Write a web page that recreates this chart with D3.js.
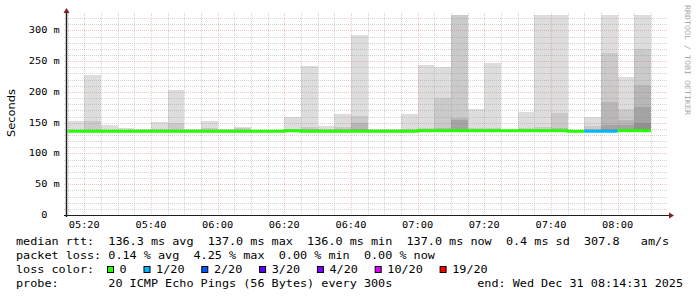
<!DOCTYPE html>
<html>
<head>
<meta charset="utf-8">
<script src="https://cdn.jsdelivr.net/npm/d3@7"></script>
<style>
  body { margin: 0; background: #fff; }
  svg { display: block; }
  text { font-family: "DejaVu Sans Mono", monospace; white-space: pre; }
</style>
</head>
<body>
<svg id="chart" width="697" height="297"></svg>
<script>
// time window of the graph
const day = "2025-12-31 ";
const startTime = "05:14:31";
const endTime = "08:14:31";
const yMax = 325; // ms

// 5 minute bins (start of each bin)
const binStart = ["05:15", "05:20", "05:25", "05:30", "05:35", "05:40", "05:45", "05:50", "05:55",
    "06:00", "06:05", "06:10", "06:15", "06:20", "06:25", "06:30", "06:35", "06:40", "06:45", "06:50", "06:55",
    "07:00", "07:05", "07:10", "07:15", "07:20", "07:25", "07:30", "07:35", "07:40", "07:45", "07:50", "07:55",
    "08:00", "08:05"];

// smoke bands, outer to inner (ms)
const smokeMax = [153, 227, 146, 142, 139, 151, 203, 140, 153, 139, 143.5, 138.5, 138.5, 160, 242, 145, 164, 292, 139, 139, 164,
    243.5, 241, 340, 172, 247.5, 138.5, 168, 340, 340, 138, 160, 340, 224, 340];
const smoke2 = [138, 153, 138, 138, 138, 139, 150, 138, 142, 138, 142, 138, 138, 139, 143, 139, 142.5, 161, 138, 138, 140,
    141, 190, 340, 141, 142, 138, 142, 143.5, 165, 137, 144.7, 263, 172, 269];
const smoke3 = [137, 138, 137, 137, 137, 137, 138, 137, 138, 137, 138, 137, 137, 138, 139, 137, 139, 150, 137, 137, 138,
    139, 141, 157, 139, 139, 137, 139, 139, 141, 137, 139, 184, 154, 211];
const smoke4 = [137, 137, 137, 137, 137, 137, 137, 137, 137, 137, 137, 137, 137, 137, 137, 137, 137, 140, 137, 137, 137,
    137, 139, 154, 137, 137, 137, 137, 137, 137, 137, 137, 146, 146, 176];
const smoke5 = [136.5, 136.5, 136.5, 136.5, 136.5, 136.5, 136.5, 136.5, 136.5, 136.5, 136.5, 136.5, 136.5, 136.5, 136.5, 136.5, 136.5, 136.5, 136.5, 136.5, 136.5,
    136.5, 136.5, 136.5, 136.5, 136.5, 136.5, 136.5, 136.5, 136.5, 136.5, 136.5, 140, 140, 149];
const smokeMin = [135.5, 135.5, 135.5, 135.5, 135.5, 135.5, 135.5, 135.5, 135.5, 135.5, 135.5, 135.5, 135.5, 135.5, 135.5, 135.5, 135.5, 135.5, 135.5, 135.5, 135.5,
    135.5, 135.5, 135.5, 135.5, 135.5, 135.5, 135.5, 135.5, 135.5, 135.5, 135.5, 135.5, 135.5, 135.5];

// median rtt (ms) and lost pings per bin
const median = [136, 136, 136, 136, 136, 136, 136, 136, 136, 136, 136, 136, 136, 137, 136, 136, 136, 136, 136, 136, 136,
    137, 137, 137, 137, 137, 137, 137, 137, 137, 136, 136, 136, 137, 137];
const lost = [0, 0, 0, 0, 0, 0, 0, 0, 0, 0, 0, 0, 0, 0, 0, 0, 0, 0, 0, 0, 0,
    0, 0, 0, 0, 0, 0, 0, 0, 0, 0, 1, 1, 0, 0];

// legend
const lossLevels = ["0", "1/20", "2/20", "3/20", "4/20", "10/20", "19/20"];
const lossThresholds = [1, 2, 3, 4, 10, 19];
const lossColors = ["#26ff00", "#00b8ff", "#0059ff", "#5e00ff", "#7e00ff", "#dd00ff", "#ff0000"];
const rttStats = [["136.3 ms", "avg"], ["137.0 ms", "max"], ["136.0 ms", "min"], ["137.0 ms", "now"], ["0.4 ms", "sd"]];
const lossStats = [["0.14 %", "avg"], ["4.25 %", "max"], ["0.00 %", "min"], ["0.00 %", "now"]];
const amps = "307.8";
const probeText = "20 ICMP Echo Pings (56 Bytes) every 300s";
const endText = "end: Wed Dec 31 08:14:31 2025";

const svg = d3.select("#chart");
const plotLeft = 66, plotRight = 666, plotTop = 15, plotBottom = 215;

const parseTime = d3.timeParse("%Y-%m-%d %H:%M:%S");
const x = d3.scaleTime()
    .domain([parseTime(day + startTime), parseTime(day + endTime)])
    .range([plotLeft, plotRight]);
const y = d3.scaleLinear().domain([0, yMax]).range([plotBottom, plotTop]);
const lossScale = d3.scaleThreshold().domain(lossThresholds).range(lossColors);

const bins = binStart.map((s, i) => {
    const t0 = parseTime(day + s + ":00");
    return { i, t0, t1: d3.timeMinute.offset(t0, 5) };
});

// monospace text stretched to a fixed cell width, like the rrdtool output
function mono(g, str, x0, yb, cw, size, fill) {
    const trimmed = str.replace(/\s+$/, "");
    return g.append("text")
        .attr("x", x0)
        .attr("y", yb)
        .attr("font-size", size + "px")
        .attr("fill", fill || "#000")
        .attr("textLength", trimmed.length * cw)
        .attr("lengthAdjust", "spacingAndGlyphs")
        .text(trimmed);
}

svg.append("clipPath").attr("id", "plot")
    .append("rect")
    .attr("x", plotLeft).attr("y", plotTop)
    .attr("width", plotRight - plotLeft).attr("height", plotBottom - plotTop);

// smoke
const smokeLayers = [smokeMax, smoke2, smoke3, smoke4, smoke5];
const smokeColors = ["#dddddd", "#cacaca", "#b7b7b7", "#a4a4a4", "#919191"];
const smokeG = svg.append("g").attr("clip-path", "url(#plot)");
smokeLayers.forEach((tops, k) => {
    smokeG.append("g").selectAll("rect")
        .data(bins)
        .join("rect")
        .attr("x", d => x(d.t0))
        .attr("width", d => x(d.t1) - x(d.t0))
        .attr("y", d => y(tops[d.i]))
        .attr("height", d => Math.max(0, y(smokeMin[d.i]) - y(tops[d.i])))
        .attr("fill", smokeColors[k])
        .attr("shape-rendering", "crispEdges");
});

// grid (drawn over the smoke like rrdtool does)
const minorColor = "rgba(143,143,143,0.38)";
const majorColor = "rgba(222,79,79,0.33)";
const gridG = svg.append("g").attr("stroke-dasharray", "1,1").attr("shape-rendering", "crispEdges");
gridG.selectAll(".hgrid")
    .data(d3.range(10, yMax, 10))
    .join("line")
    .attr("class", "hgrid")
    .attr("x1", plotLeft - 2).attr("x2", plotRight + 2)
    .attr("y1", d => Math.round(y(d)) + 0.5)
    .attr("y2", d => Math.round(y(d)) + 0.5)
    .attr("stroke", d => d % 50 === 0 ? majorColor : minorColor);

const minorTimes = x.ticks(d3.timeMinute.every(5));
gridG.selectAll(".vgrid")
    .data(minorTimes)
    .join("line")
    .attr("class", "vgrid")
    .attr("x1", d => Math.round(x(d)) + 0.5)
    .attr("x2", d => Math.round(x(d)) + 0.5)
    .attr("y1", 13).attr("y2", plotBottom + 2)
    .attr("stroke", d => d.getMinutes() % 20 === 0 ? majorColor : minorColor);

// median line coloured by loss
const groups = [];
bins.forEach(b => {
    const c = lossScale(lost[b.i]);
    const last = groups[groups.length - 1];
    if (last && last.color === c && last.bins[last.bins.length - 1].i === b.i - 1) last.bins.push(b);
    else groups.push({ color: c, bins: [b] });
});
const stepLine = d3.line().curve(d3.curveStepAfter).x(d => d[0]).y(d => d[1]);
svg.append("g").attr("clip-path", "url(#plot)")
    .selectAll("path")
    .data(groups)
    .join("path")
    .attr("fill", "none")
    .attr("stroke", d => d.color)
    .attr("stroke-width", 3)
    .attr("d", g => {
        const pts = g.bins.map(b => [x(b.t0), y(median[b.i])]);
        const lastBin = g.bins[g.bins.length - 1];
        pts.push([x(lastBin.t1), y(median[lastBin.i])]);
        return stepLine(pts);
    });

// axes
const axisG = svg.append("g");
axisG.append("line")
    .attr("x1", plotLeft + 0.5).attr("x2", plotLeft + 0.5)
    .attr("y1", plotBottom + 2).attr("y2", 12)
    .attr("stroke", "#1f1f1f").attr("stroke-width", 1.5);
axisG.append("line")
    .attr("x1", plotLeft - 2).attr("x2", plotRight + 3)
    .attr("y1", plotBottom + 0.5).attr("y2", plotBottom + 0.5)
    .attr("stroke", "#1f1f1f").attr("stroke-width", 1.2);
axisG.append("path")
    .attr("d", `M${plotLeft + 0.5},8 L${plotLeft - 2.5},13 L${plotLeft + 3.5},13 Z`)
    .attr("fill", "#801f1f");
axisG.append("path")
    .attr("d", `M${plotRight + 8},${plotBottom + 0.5} L${plotRight + 3},${plotBottom - 2.5} L${plotRight + 3},${plotBottom + 3.5} Z`)
    .attr("fill", "#801f1f");

// tick labels
const cwAxis = 6.2, axisSize = 8.6;
d3.range(0, yMax, 50).forEach(v => {
    const label = v === 0 ? "0  " : v + " m";
    mono(axisG, label, 59.8 - label.length * cwAxis, y(v) + 3, cwAxis, axisSize);
});
const fmt = d3.timeFormat("%H:%M");
x.ticks(d3.timeMinute.every(20)).forEach(t => {
    const label = fmt(t);
    mono(axisG, label, x(t) - label.length * cwAxis / 2, 227.5, cwAxis, axisSize);
});

svg.append("text")
    .attr("transform", "translate(15,113) rotate(-90)")
    .attr("text-anchor", "middle")
    .style("font-family", "'DejaVu Sans', sans-serif")
    .attr("font-size", "9.6px")
    .attr("textLength", 48)
    .attr("lengthAdjust", "spacingAndGlyphs")
    .text("Seconds");

svg.append("text")
    .attr("transform", "translate(685,5) rotate(90)")
    .attr("font-size", "7.4px")
    .attr("fill", "#a9a9a9")
    .attr("textLength", 110)
    .attr("lengthAdjust", "spacingAndGlyphs")
    .text("RRDTOOL / TOBI OETIKER");

// legend
const cw = 7.1, legSize = 10, legX = 16;
const legG = svg.append("g");
let row1 = "median rtt:  " + rttStats.map(s => s[0] + " " + s[1]).join("  ") + "  " + amps + "   am/s";
mono(legG, row1, legX, 244.5, cw, legSize);
let row2 = "packet loss: " + lossStats.map(s => s[0] + " " + s[1]).join("  ");
mono(legG, row2, legX, 258.6, cw, legSize);
mono(legG, "loss color:", legX, 272.7, cw, legSize);
let bx = legX + 13 * cw - 1.3;
lossLevels.forEach((lvl, i) => {
    legG.append("rect")
        .attr("x", bx + 0.5).attr("y", 266.5)
        .attr("width", 6).attr("height", 6)
        .attr("fill", lossColors[i])
        .attr("stroke", "#000").attr("stroke-width", 1);
    mono(legG, lvl, bx + 12.6, 272.7, cw, legSize);
    bx += 14.2 + lvl.length * cw + 15.2;
});
mono(legG, "probe:       " + probeText, legX, 286.8, cw, legSize);
mono(legG, endText, 477.2, 286.8, cw, legSize);
</script>
</body>
</html>
